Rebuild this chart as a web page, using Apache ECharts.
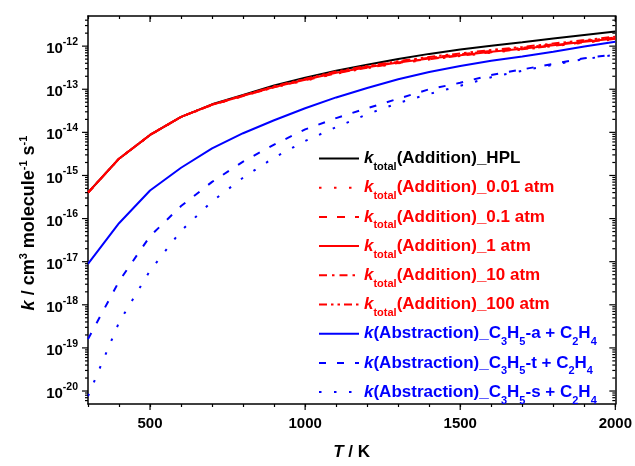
<!DOCTYPE html>
<html>
<head>
<meta charset="utf-8">
<script src="https://cdn.jsdelivr.net/npm/echarts@6/dist/echarts.min.js"></script>
<style>
  html, body { margin: 0; padding: 0; background: #ffffff; }
  #chart { width: 635px; height: 466px; }
</style>
</head>
<body>
<div id="chart"></div>
<script>
// Temperature grid (K)
const temperatures = [300, 400, 500, 600, 700, 800, 900, 1000, 1100, 1200, 1300, 1400, 1500, 1600, 1700, 1800, 1900, 2000];

// Rate constants, cm^3 molecule^-1 s^-1
const kTotalHPL = [4.0e-16, 2.45e-15, 8.7e-15, 2.29e-14, 4.47e-14, 7.41e-14, 1.23e-13, 1.86e-13, 2.69e-13, 3.72e-13, 5.01e-13, 6.61e-13, 8.32e-13, 1.02e-12, 1.23e-12, 1.51e-12, 1.82e-12, 2.19e-12];
const kTotal0p01atm = [4.0e-16, 2.44e-15, 8.6e-15, 2.26e-14, 4.30e-14, 6.92e-14, 1.10e-13, 1.58e-13, 2.29e-13, 3.09e-13, 3.98e-13, 4.90e-13, 5.89e-13, 7.08e-13, 8.32e-13, 1.00e-12, 1.20e-12, 1.45e-12];
const kTotal0p1atm = [4.0e-16, 2.45e-15, 8.7e-15, 2.28e-14, 4.35e-14, 7.00e-14, 1.11e-13, 1.62e-13, 2.34e-13, 3.16e-13, 4.07e-13, 5.01e-13, 6.03e-13, 7.24e-13, 8.51e-13, 1.02e-12, 1.23e-12, 1.48e-12];
const kTotal1atm = [4.0e-16, 2.45e-15, 8.7e-15, 2.29e-14, 4.37e-14, 7.08e-14, 1.12e-13, 1.66e-13, 2.40e-13, 3.24e-13, 4.17e-13, 5.13e-13, 6.17e-13, 7.41e-13, 8.71e-13, 1.05e-12, 1.26e-12, 1.51e-12];
const kTotal10atm = [4.0e-16, 2.45e-15, 8.7e-15, 2.29e-14, 4.40e-14, 7.16e-14, 1.15e-13, 1.70e-13, 2.48e-13, 3.35e-13, 4.32e-13, 5.37e-13, 6.46e-13, 7.76e-13, 9.12e-13, 1.10e-12, 1.32e-12, 1.58e-12];
const kTotal100atm = [4.0e-16, 2.45e-15, 8.7e-15, 2.29e-14, 4.42e-14, 7.24e-14, 1.17e-13, 1.74e-13, 2.57e-13, 3.47e-13, 4.47e-13, 5.62e-13, 6.76e-13, 8.13e-13, 9.55e-13, 1.15e-12, 1.38e-12, 1.66e-12];
const kAbsC3H5a = [8.9e-18, 7.8e-17, 4.47e-16, 1.51e-15, 4.27e-15, 9.55e-15, 1.91e-14, 3.63e-14, 6.46e-14, 1.07e-13, 1.70e-13, 2.51e-13, 3.47e-13, 4.57e-13, 5.75e-13, 7.41e-13, 9.77e-13, 1.26e-12];
const kAbsC3H5t = [1.6e-19, 3.5e-18, 3.9e-17, 1.95e-16, 7.1e-16, 2.1e-15, 5.2e-15, 1.17e-14, 2.14e-14, 3.63e-14, 6.03e-14, 1.0e-13, 1.41e-13, 2.14e-13, 2.88e-13, 3.89e-13, 5.25e-13, 6.46e-13];
const kAbsC3H5s = [7.6e-21, 3.9e-19, 6.2e-18, 5.2e-17, 2.5e-16, 8.9e-16, 2.6e-15, 6.3e-15, 1.32e-14, 2.63e-14, 4.79e-14, 7.76e-14, 1.20e-13, 1.90e-13, 2.69e-13, 3.72e-13, 5.0e-13, 6.3e-13];

// Axis ranges and ticks
const xRange = [300, 2000];
const yRange = [5e-21, 5e-12];
const xMajorTicks = [500, 1000, 1500, 2000];
const xTickLabels = ['500', '1000', '1500', '2000'];
const yExponents = [-20, -19, -18, -17, -16, -15, -14, -13, -12];
const yTickLabels = ['-20', '-19', '-18', '-17', '-16', '-15', '-14', '-13', '-12'];

const FONT = '"Liberation Sans", Arial, sans-serif';
const RED = '#ff0000', BLUE = '#0000ff', BLACK = '#000000';

const yMajorValues = yExponents.map(e => Math.pow(10, e));
const yMinorValues = [];
for (let e = -21; e <= -12; e++) {
  for (let m = 2; m <= 9; m++) {
    const v = m * Math.pow(10, e);
    if (v > yRange[0] && v < yRange[1]) yMinorValues.push(v);
  }
}

// Legend label markup
function styleSet(prefix, color) {
  const o = {};
  o['k' + prefix] = { fontFamily: FONT, fontSize: 17, fontWeight: 'bold', fontStyle: 'italic', color: color };
  o['t' + prefix] = { fontFamily: FONT, fontSize: 17, fontWeight: 'bold', color: color };
  o['s' + prefix] = { fontFamily: FONT, fontSize: 11, fontWeight: 'bold', color: color, padding: [17, 0, 0, 0] };
  return o;
}
const legendRich = Object.assign({}, styleSet('K', BLACK), styleSet('R', RED), styleSet('B', BLUE));

function totalLabel(c, tail) {
  return '{k' + c + '|k}{s' + c + '|total}{t' + c + '|(Addition)_' + tail + '}';
}
function absLabel(site) {
  return '{kB|k}{tB|(Abstraction)_C}{sB|3}{tB|H}{sB|5}{tB|-' + site + ' + C}{sB|2}{tB|H}{sB|4}';
}

const seriesDefs = [
  { name: 'k_total(Addition)_HPL', data: kTotalHPL, color: BLACK, type: 'solid', label: totalLabel('K', 'HPL') },
  { name: 'k_total(Addition)_0.01 atm', data: kTotal0p01atm, color: RED, type: [2.5, 12.5], label: totalLabel('R', '0.01 atm') },
  { name: 'k_total(Addition)_0.1 atm', data: kTotal0p1atm, color: RED, type: [8, 10], label: totalLabel('R', '0.1 atm') },
  { name: 'k_total(Addition)_1 atm', data: kTotal1atm, color: RED, type: 'solid', label: totalLabel('R', '1 atm') },
  { name: 'k_total(Addition)_10 atm', data: kTotal10atm, color: RED, type: [8, 5, 2.5, 5], label: totalLabel('R', '10 atm') },
  { name: 'k_total(Addition)_100 atm', data: kTotal100atm, color: RED, type: [8, 4, 2.5, 4, 2.5, 4], label: totalLabel('R', '100 atm') },
  { name: 'k(Abstraction)_C3H5-a + C2H4', data: kAbsC3H5a, color: BLUE, type: 'solid', label: absLabel('a') },
  { name: 'k(Abstraction)_C3H5-t + C2H4', data: kAbsC3H5t, color: BLUE, type: [7, 11], label: absLabel('t') },
  { name: 'k(Abstraction)_C3H5-s + C2H4', data: kAbsC3H5s, color: BLUE, type: [2.5, 12.5], label: absLabel('s') }
];
const legendLabelByName = {};
seriesDefs.forEach(d => { legendLabelByName[d.name] = d.label; });

const lineSeries = seriesDefs.map(d => ({
  type: 'line',
  name: d.name,
  data: temperatures.map((t, i) => [t, d.data[i]]),
  symbol: 'none',
  smooth: false,
  animation: false,
  lineStyle: { color: d.color, width: 2, type: d.type },
  itemStyle: { color: d.color },
  z: 3
}));

const tickLine = (x1, y1, x2, y2) => ({
  type: 'line',
  shape: { x1: x1, y1: y1, x2: x2, y2: y2 },
  style: { stroke: BLACK, lineWidth: 1.2 }
});

// Major ticks on bottom (outward) and top (inward)
const xMajorSeries = {
  type: 'custom', name: 'xMajor', silent: true, animation: false, clip: false, z: 6,
  data: xMajorTicks.map(v => [v, yRange[0]]),
  renderItem: function (params, api) {
    const v = api.value(0);
    const b = api.coord([v, yRange[0]]);
    const t = api.coord([v, yRange[1]]);
    return { type: 'group', children: [tickLine(b[0], b[1], b[0], b[1] + 6), tickLine(t[0], t[1], t[0], t[1] + 6)] };
  }
};

// Decade ticks with labels on left, inward ticks on right
const yMajorSeries = {
  type: 'custom', name: 'yMajor', silent: true, animation: false, clip: false, z: 6,
  data: yMajorValues.map(v => [xRange[0], v]),
  renderItem: function (params, api) {
    const v = api.value(1);
    const l = api.coord([xRange[0], v]);
    const r = api.coord([xRange[1], v]);
    return {
      type: 'group',
      children: [
        tickLine(l[0] - 6, l[1], l[0], l[1]),
        tickLine(r[0] - 6, r[1], r[0], r[1]),
        {
          type: 'text',
          x: l[0] - 10,
          y: l[1],
          style: {
            text: '{b|10}{e|' + yTickLabels[params.dataIndex] + '}',
            align: 'right',
            verticalAlign: 'middle',
            fill: BLACK,
            rich: {
              b: { fontFamily: FONT, fontSize: 15, fontWeight: 'bold', fill: BLACK, padding: [6, 0, 0, 0] },
              e: { fontFamily: FONT, fontSize: 10.5, fontWeight: 'bold', fill: BLACK, padding: [0, 0, 8, 0] }
            }
          }
        }
      ]
    };
  }
};

// Minor ticks (2..9 x 10^n) on left and right
const yMinorSeries = {
  type: 'custom', name: 'yMinor', silent: true, animation: false, clip: false, z: 6,
  data: yMinorValues.map(v => [xRange[0], v]),
  renderItem: function (params, api) {
    const v = api.value(1);
    const l = api.coord([xRange[0], v]);
    const r = api.coord([xRange[1], v]);
    return { type: 'group', children: [tickLine(l[0] - 3, l[1], l[0], l[1]), tickLine(r[0] - 3, r[1], r[0], r[1])] };
  }
};

const chart = echarts.init(document.getElementById('chart'), null, { renderer: 'canvas' });

const axisLineStyle = { color: BLACK, width: 1.5 };

chart.setOption({
  backgroundColor: '#ffffff',
  animation: false,
  grid: { left: 88, right: 16, top: 16, bottom: 58, containLabel: false },
  legend: {
    orient: 'vertical',
    left: 318,
    top: 150,
    padding: 0,
    itemWidth: 40,
    itemHeight: 14,
    itemGap: 6.7,
    selectedMode: false,
    itemStyle: { opacity: 0 },
    data: seriesDefs.map(d => d.name),
    formatter: name => legendLabelByName[name],
    textStyle: { fontFamily: FONT, rich: legendRich }
  },
  xAxis: [
    {
      type: 'value', position: 'bottom', min: xRange[0], max: xRange[1], interval: 100,
      axisLine: { show: true, onZero: false, lineStyle: axisLineStyle },
      axisTick: { show: true, inside: false, length: 3, lineStyle: { color: BLACK, width: 1.2 } },
      splitLine: { show: false },
      axisLabel: {
        margin: 12,
        color: BLACK, fontFamily: FONT, fontSize: 15, fontWeight: 'bold',
        formatter: v => { const i = xMajorTicks.indexOf(v); return i >= 0 ? xTickLabels[i] : ''; }
      },
      name: '{i|T}{n| / K}',
      nameLocation: 'middle',
      nameGap: 40,
      nameTextStyle: {
        rich: {
          i: { fontFamily: FONT, fontSize: 17, fontWeight: 'bold', fontStyle: 'italic', color: BLACK },
          n: { fontFamily: FONT, fontSize: 17, fontWeight: 'bold', color: BLACK }
        }
      }
    },
    {
      type: 'value', position: 'top', min: xRange[0], max: xRange[1], interval: 100,
      axisLine: { show: true, onZero: false, lineStyle: axisLineStyle },
      axisTick: { show: true, inside: true, length: 3, lineStyle: { color: BLACK, width: 1.2 } },
      axisLabel: { show: false },
      splitLine: { show: false }
    }
  ],
  yAxis: [
    {
      type: 'log', logBase: 10, position: 'left', min: yRange[0], max: yRange[1],
      axisLine: { show: true, onZero: false, lineStyle: axisLineStyle },
      axisTick: { show: false },
      axisLabel: { show: false },
      splitLine: { show: false },
      minorTick: { show: false },
      name: '{i|k}{n| / cm}{p|3}{n| molecule}{p|-1}{n| s}{p|-1}',
      nameLocation: 'middle',
      nameRotate: 90,
      nameGap: 48,
      nameTextStyle: {
        padding: [0, 26, 0, 0],
        rich: {
          i: { fontFamily: FONT, fontSize: 18, fontWeight: 'bold', fontStyle: 'italic', color: BLACK },
          n: { fontFamily: FONT, fontSize: 18, fontWeight: 'bold', color: BLACK },
          p: { fontFamily: FONT, fontSize: 11, fontWeight: 'bold', color: BLACK, padding: [0, 0, 11, 0] }
        }
      }
    },
    {
      type: 'log', logBase: 10, position: 'right', min: yRange[0], max: yRange[1],
      axisLine: { show: true, onZero: false, lineStyle: axisLineStyle },
      axisTick: { show: false },
      axisLabel: { show: false },
      splitLine: { show: false }
    }
  ],
  series: lineSeries.concat([xMajorSeries, yMajorSeries, yMinorSeries])
});
</script>
</body>
</html>
